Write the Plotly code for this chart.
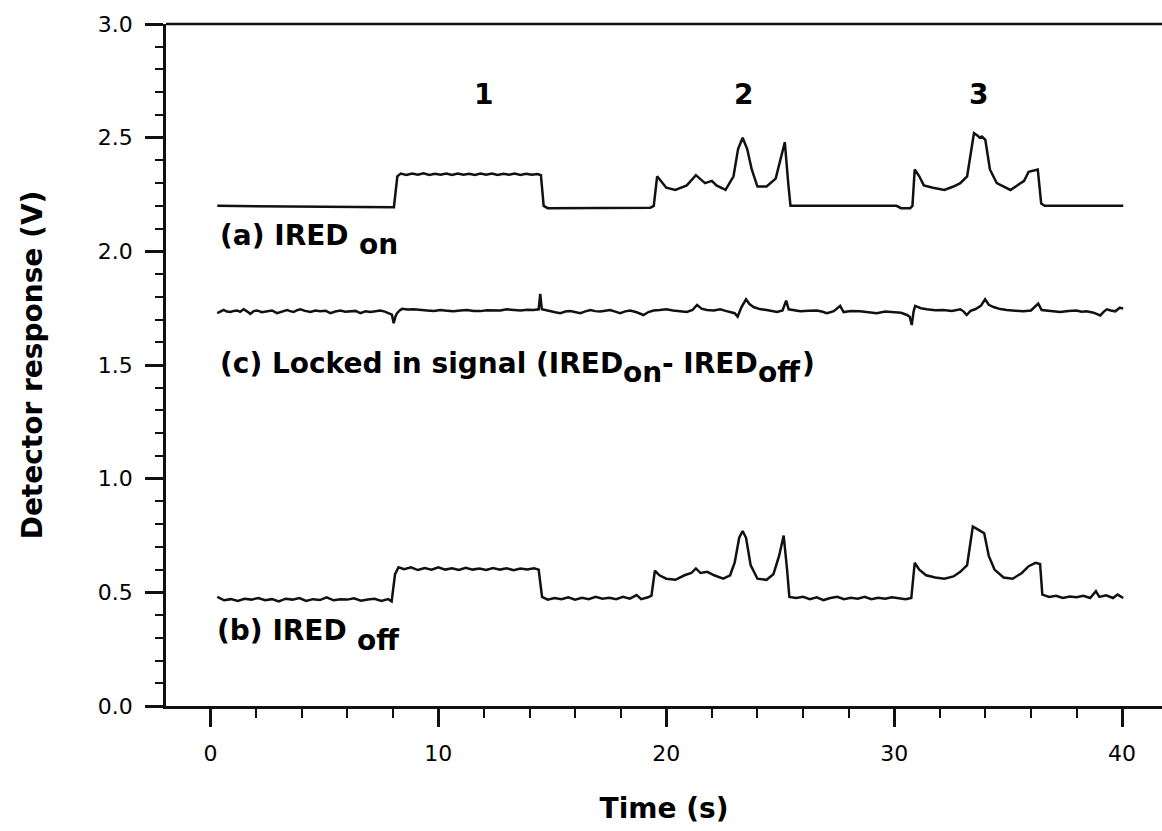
import plotly.graph_objects as go

# ---------------- data ----------------
# (a) IRED on
t_a = [0.3, 2.0, 4.0, 6.0, 7.9, 8.05,
       8.2, 8.35, 8.6, 8.85, 9.1, 9.35, 9.6, 9.85, 10.1, 10.35, 10.6, 10.85, 11.1,
       11.35, 11.6, 11.85, 12.1, 12.35, 12.6, 12.85, 13.1, 13.35, 13.6, 13.85, 14.1, 14.35,
       14.5, 14.62, 14.8, 17.0, 19.3, 19.45, 19.6,
       20.0, 20.4, 20.9, 21.3, 21.7, 22.0, 22.2, 22.6, 22.95,
       23.15, 23.35, 23.55, 23.75, 24.0, 24.4, 24.8, 25.0, 25.2, 25.35, 25.45,
       28.0, 30.1, 30.3, 30.7, 30.8, 30.9, 31.1, 31.3, 31.7,
       32.2, 32.6, 32.9, 33.2, 33.5, 33.65, 33.75, 33.85, 34.0, 34.2, 34.5,
       35.1, 35.7, 35.9, 36.1, 36.3, 36.45, 36.6, 38.0, 40.05]
v_a = [2.200, 2.199, 2.197, 2.196, 2.194, 2.194,
       2.330, 2.342, 2.336, 2.342, 2.337, 2.343, 2.336, 2.341, 2.337, 2.342, 2.336, 2.342, 2.337,
       2.341, 2.336, 2.342, 2.337, 2.342, 2.336, 2.341, 2.337, 2.342, 2.336, 2.341, 2.337, 2.340,
       2.335, 2.200, 2.190, 2.190, 2.192, 2.200, 2.330,
       2.280, 2.270, 2.290, 2.335, 2.300, 2.310, 2.290, 2.270, 2.330,
       2.450, 2.500, 2.450, 2.360, 2.285, 2.285, 2.320, 2.400, 2.480, 2.300, 2.200,
       2.200, 2.200, 2.190, 2.190, 2.200, 2.360, 2.330, 2.290, 2.280,
       2.270, 2.285, 2.300, 2.330, 2.520, 2.510, 2.500, 2.505, 2.490, 2.360, 2.300,
       2.270, 2.310, 2.350, 2.355, 2.360, 2.210, 2.200, 2.200, 2.200]

# (b) IRED off
t_b = [0.3, 0.6, 0.9, 1.2, 1.5, 1.8, 2.1, 2.4, 2.7, 3.0,
       3.3, 3.6, 3.9, 4.2, 4.5, 4.8, 5.1, 5.4, 5.7, 6.0,
       6.3, 6.6, 6.9, 7.2, 7.5, 7.8, 7.95, 8.1, 8.25, 8.5,
       8.8, 9.1, 9.4, 9.7, 10.0, 10.3, 10.6, 10.9, 11.2, 11.5,
       11.8, 12.1, 12.4, 12.7, 13.0, 13.3, 13.6, 13.9, 14.2, 14.4,
       14.55, 14.8, 15.1, 15.4, 15.7, 16.0, 16.3, 16.6, 16.9, 17.2,
       17.5, 17.8, 18.1, 18.4, 18.7, 18.9, 19.2, 19.35, 19.5, 19.7,
       20.0, 20.4, 20.8, 21.1, 21.3, 21.5, 21.8, 22.1, 22.5, 22.8,
       23.0, 23.2, 23.35, 23.5, 23.7, 24.0, 24.4, 24.7, 24.95, 25.15,
       25.3, 25.4, 25.7, 26.0, 26.3, 26.6, 26.9, 27.2, 27.5, 27.8,
       28.1, 28.4, 28.7, 29.0, 29.3, 29.6, 29.9, 30.2, 30.5, 30.75,
       30.9, 31.1, 31.4, 31.8, 32.2, 32.6, 32.9, 33.2, 33.45, 33.7,
       33.95, 34.15, 34.4, 34.8, 35.2, 35.6, 35.9, 36.2, 36.4, 36.5,
       36.8, 37.1, 37.4, 37.7, 38.0, 38.3, 38.6, 38.85, 39.0, 39.3,
       39.6, 39.8, 40.05]
v_b = [0.480, 0.465, 0.470, 0.462, 0.472, 0.468, 0.475, 0.465, 0.470, 0.460,
       0.472, 0.468, 0.475, 0.462, 0.470, 0.466, 0.478, 0.465, 0.470, 0.468,
       0.474, 0.463, 0.468, 0.472, 0.462, 0.470, 0.460, 0.580, 0.610, 0.602,
       0.610, 0.598, 0.607, 0.600, 0.610, 0.600, 0.606, 0.598, 0.608, 0.600,
       0.605, 0.598, 0.607, 0.600, 0.606, 0.597, 0.605, 0.600, 0.606, 0.600,
       0.480, 0.468, 0.475, 0.470, 0.478, 0.468, 0.476, 0.470, 0.480, 0.472,
       0.476, 0.470, 0.480, 0.472, 0.488, 0.470, 0.478, 0.485, 0.595, 0.575,
       0.560, 0.555, 0.575, 0.585, 0.605, 0.585, 0.590, 0.575, 0.560, 0.575,
       0.630, 0.740, 0.770, 0.740, 0.620, 0.560, 0.555, 0.580, 0.660, 0.750,
       0.600, 0.480, 0.475, 0.480, 0.470, 0.478, 0.466, 0.475, 0.480, 0.470,
       0.476, 0.472, 0.480, 0.470, 0.476, 0.472, 0.478, 0.474, 0.470, 0.475,
       0.630, 0.600, 0.575, 0.565, 0.560, 0.570, 0.590, 0.620, 0.790, 0.775,
       0.760, 0.660, 0.600, 0.565, 0.560, 0.585, 0.615, 0.630, 0.625, 0.490,
       0.480, 0.485, 0.475, 0.482, 0.478, 0.485, 0.475, 0.505, 0.480, 0.487,
       0.475, 0.490, 0.475]

# (c) locked-in signal
t_c = [0.30, 0.45, 0.58, 0.72, 0.88, 1.02, 1.17, 1.30, 1.46, 1.60,
       1.75, 1.90, 2.05, 2.25, 2.49, 2.70, 2.92, 3.15, 3.36, 3.50,
       3.65, 3.80, 3.95, 4.15, 4.39, 4.60, 4.82, 5.05, 5.26, 5.48,
       5.70, 5.92, 6.14, 6.36, 6.58, 6.80, 7.02, 7.25, 7.46, 7.65,
       7.82, 7.96, 8.04, 8.12, 8.19, 8.30, 8.41, 8.65, 8.92, 9.20,
       9.50, 9.80, 10.09, 10.38, 10.67, 10.96, 11.26, 11.55, 11.84, 12.13,
       12.43, 12.72, 13.00, 13.30, 13.60, 13.90, 14.18, 14.40, 14.47, 14.54,
       14.72, 14.91, 15.13, 15.35, 15.57, 15.79, 16.01, 16.23, 16.45, 16.67,
       16.88, 17.10, 17.32, 17.54, 17.76, 17.98, 18.20, 18.42, 18.70, 19.00,
       19.22, 19.44, 19.72, 20.00, 20.30, 20.60, 20.90, 21.15, 21.35, 21.55,
       21.78, 22.08, 22.37, 22.60, 22.80, 23.00, 23.13, 23.30, 23.50, 23.65,
       23.83, 24.10, 24.40, 24.63, 24.86, 25.10, 25.26, 25.37, 25.62, 25.88,
       26.25, 26.60, 26.82, 27.05, 27.35, 27.63, 27.78, 28.10, 28.50, 28.85,
       29.24, 29.60, 29.97, 30.30, 30.56, 30.68, 30.77, 30.85, 30.92, 31.17,
       31.43, 31.80, 32.16, 32.53, 32.90, 33.05, 33.18, 33.35, 33.55, 33.80,
       33.99, 34.15, 34.36, 34.65, 34.94, 35.30, 35.67, 36.00, 36.32, 36.47,
       36.85, 37.28, 37.65, 38.00, 38.22, 38.44, 38.75, 39.04, 39.20, 39.33,
       39.50, 39.70, 39.90, 40.05]
v_c = [1.728, 1.736, 1.742, 1.735, 1.733, 1.738, 1.740, 1.734, 1.745, 1.736,
       1.725, 1.737, 1.740, 1.732, 1.735, 1.740, 1.728, 1.736, 1.742, 1.737,
       1.733, 1.741, 1.745, 1.738, 1.733, 1.740, 1.736, 1.739, 1.728, 1.735,
       1.740, 1.734, 1.735, 1.738, 1.728, 1.736, 1.733, 1.737, 1.740, 1.735,
       1.728, 1.722, 1.684, 1.715, 1.728, 1.740, 1.747, 1.744, 1.745, 1.741,
       1.740, 1.738, 1.742, 1.739, 1.736, 1.740, 1.742, 1.738, 1.737, 1.741,
       1.742, 1.740, 1.745, 1.741, 1.740, 1.743, 1.742, 1.745, 1.813, 1.745,
       1.740, 1.736, 1.732, 1.728, 1.735, 1.737, 1.733, 1.728, 1.736, 1.742,
       1.737, 1.735, 1.739, 1.742, 1.735, 1.728, 1.736, 1.740, 1.732, 1.720,
       1.733, 1.740, 1.742, 1.745, 1.740, 1.737, 1.733, 1.742, 1.764, 1.748,
       1.742, 1.740, 1.745, 1.738, 1.733, 1.728, 1.713, 1.755, 1.789, 1.768,
       1.755, 1.746, 1.742, 1.738, 1.733, 1.740, 1.783, 1.745, 1.740, 1.736,
       1.739, 1.740, 1.735, 1.728, 1.737, 1.760, 1.733, 1.738, 1.736, 1.733,
       1.728, 1.735, 1.733, 1.730, 1.720, 1.712, 1.676, 1.735, 1.760, 1.750,
       1.745, 1.741, 1.742, 1.738, 1.745, 1.735, 1.720, 1.738, 1.745, 1.760,
       1.789, 1.765, 1.755, 1.746, 1.742, 1.738, 1.736, 1.740, 1.770, 1.742,
       1.737, 1.733, 1.738, 1.740, 1.734, 1.736, 1.730, 1.718, 1.735, 1.745,
       1.740, 1.736, 1.752, 1.748]

x_ticks = [0, 10, 20, 30, 40]
x_tick_labels = ["0", "10", "20", "30", "40"]
y_ticks = [0.0, 0.5, 1.0, 1.5, 2.0, 2.5, 3.0]
y_tick_labels = ["0.0", "0.5", "1.0", "1.5", "2.0", "2.5", "3.0"]
x_minor = [2, 4, 6, 8, 12, 14, 16, 18, 22, 24, 26, 28, 32, 34, 36, 38]
y_minor = [0.1, 0.2, 0.3, 0.4, 0.6, 0.7, 0.8, 0.9, 1.1, 1.2, 1.3, 1.4, 1.6, 1.7, 1.8, 1.9,
           2.1, 2.2, 2.3, 2.4, 2.6, 2.7, 2.8, 2.9]

peak_labels = ["1", "2", "3"]
peak_label_x = [12.0, 23.4, 33.7]
peak_label_y = 2.69

# curve labels: (text, x, y) in data units; subscripts are separate, lowered pieces
curve_labels = [
    ("(a) IRED", 0.31, 2.07), ("on", 6.45, 2.028),
    ("(b) IRED", 0.22, 0.33), ("off", 6.36, 0.288),
    ("(c) Locked in signal (IRED", 0.31, 1.505), ("on", 18.03, 1.465),
    ("- IRED", 19.74, 1.505), ("off", 23.95, 1.465), (")", 25.86, 1.505),
]

# ---------------- figure ----------------
INK = "#111111"
FONT = "DejaVu Sans"

fig = go.Figure()
for tx, vy in [(t_a, v_a), (t_c, v_c), (t_b, v_b)]:
    fig.add_trace(go.Scatter(x=tx, y=vy, mode="lines",
                             line=dict(color=INK, width=2.5),
                             showlegend=False, hoverinfo="skip"))

fig.update_layout(
    width=1162, height=831,
    margin=dict(l=166, r=0, t=24, b=125),
    paper_bgcolor="white", plot_bgcolor="white",
    font=dict(family=FONT, color="black"),
    showlegend=False,
)

fig.update_xaxes(
    range=[-1.95, 41.75], automargin=False,
    tickmode="array", tickvals=x_ticks, ticktext=x_tick_labels,
    ticks="outside", ticklen=18, tickwidth=2.5, tickcolor=INK,
    ticklabelstandoff=8,
    showline=True, linewidth=2.5, linecolor=INK,
    showgrid=False, zeroline=False,
    tickfont=dict(family=FONT, size=22, color="black"),
    minor=dict(tickmode="array", tickvals=x_minor, ticks="outside",
               ticklen=9, tickwidth=2, tickcolor=INK, showgrid=False),
    title=dict(text="<b>Time (s)</b>", font=dict(family=FONT, size=28, color="black"),
               standoff=34),
)
fig.update_yaxes(
    range=[0, 3], automargin=False,
    tickmode="array", tickvals=y_ticks, ticktext=y_tick_labels,
    ticks="outside", ticklen=18, tickwidth=2.5, tickcolor=INK,
    ticklabelstandoff=8,
    showline=True, linewidth=2.5, linecolor=INK,
    showgrid=False, zeroline=False,
    tickfont=dict(family=FONT, size=22, color="black"),
    minor=dict(tickmode="array", tickvals=y_minor, ticks="outside",
               ticklen=8, tickwidth=2, tickcolor=INK, showgrid=False),
    title=dict(text="<b>Detector response (V)</b>", font=dict(family=FONT, size=28, color="black"),
               standoff=48),
)

# top frame line
fig.add_shape(type="line", xref="paper", yref="paper", x0=0, x1=1, y0=1, y1=1,
              line=dict(color=INK, width=2.5))

ann_font = dict(family=FONT, size=28, color="black")
for lab, px in zip(peak_labels, peak_label_x):
    fig.add_annotation(x=px, y=peak_label_y, text=f"<b>{lab}</b>", showarrow=False,
                       xanchor="center", yanchor="middle", font=ann_font)

for txt, px, py in curve_labels:
    fig.add_annotation(x=px, y=py, text=f"<b>{txt}</b>", showarrow=False,
                       xanchor="left", yanchor="middle", font=ann_font)

fig.write_html("out.html")
